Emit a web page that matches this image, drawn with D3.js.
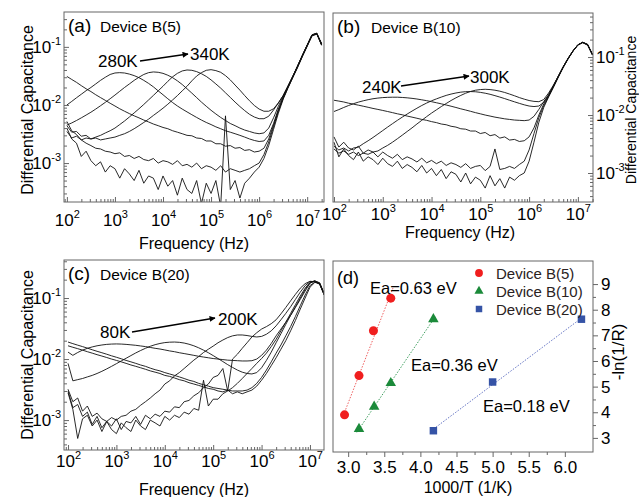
<!DOCTYPE html>
<html>
<head>
<meta charset="utf-8">
<script src="https://cdn.jsdelivr.net/npm/d3@7"></script>
<style>
  body { margin: 0; background: #fff; }
  svg { font-family: "Liberation Sans", Arial, sans-serif; }
</style>
</head>
<body>
<svg id="fig" width="639" height="497"></svg>
<script>
// ---- data -------------------------------------------------------------
// frequency grid, log10(f / Hz)
const freqExp = [2.0, 2.1, 2.2, 2.3, 2.4, 2.5, 2.6, 2.7, 2.8, 2.9,
  3.0, 3.1, 3.2, 3.3, 3.4, 3.5, 3.6, 3.7, 3.8, 3.9,
  4.0, 4.1, 4.2, 4.3, 4.4, 4.5, 4.6, 4.7, 4.8, 4.9,
  5.0, 5.1, 5.2, 5.3, 5.4, 5.5, 5.6, 5.7, 5.8, 5.9,
  6.0, 6.1, 6.2, 6.3, 6.4, 6.5, 6.6, 6.7, 6.8, 6.9,
  7.0, 7.1, 7.2, 7.3];

// differential capacitance, in units of 1e-3
const UNIT = 1e-3;

// (a) Device B(5)
const a340K = [4.4, 3.4, 3.5, 2.9, 3.0, 2.6, 2.7, 2.5, 2.6, 2.7,
  2.8, 3.0, 3.2, 3.5, 3.9, 4.4, 5.0, 5.7, 6.6, 7.6,
  8.8, 10.3, 12.2, 14.5, 17.5, 21, 26, 31.5, 36, 39.5,
  40.5, 39, 36.5, 32, 27, 22, 18, 14.5, 11.8, 9.8,
  8.5, 7.8, 7.8, 8.6, 10.8, 14.5, 21, 31, 46, 70,
  105, 155, 165, 112];
const a320K = [3.5, 2.7, 2.9, 2.5, 2.7, 2.6, 2.8, 3.0, 3.3, 3.6,
  4.0, 4.6, 5.3, 6.2, 7.3, 8.6, 10.2, 12.2, 14.6, 17.5,
  21, 25.5, 30.5, 35, 38.5, 40, 39.5, 37.5, 34.5, 31,
  27, 23, 19.5, 16.2, 13.5, 11.2, 9.4, 8.0, 6.9, 6.2,
  5.8, 5.8, 6.4, 8.2, 10.8, 14.5, 21, 31, 47, 71,
  107, 158, 168, 108];
const a300K = [4.5, 4.9, 5.4, 6.0, 6.7, 7.5, 8.5, 9.7, 11.1, 12.8,
  14.8, 17.2, 20, 23, 26.5, 30, 33.5, 36, 37, 36.5,
  35, 32.5, 29.5, 26, 22.5, 19, 16, 13.4, 11.2, 9.5,
  8.1, 7.0, 6.1, 5.4, 4.8, 4.4, 4.0, 3.7, 3.5, 3.3,
  3.2, 3.3, 4.0, 6.0, 9.5, 14, 21, 31, 47, 72,
  108, 162, 172, 108];
const a280K = [10, 11.5, 13.3, 15.3, 17.6, 20, 23, 26.5, 30, 33.5,
  35.5, 36, 35.5, 34, 32, 29.5, 26.5, 23.5, 20.5, 17.5,
  15, 12.8, 11, 9.6, 8.5, 7.6, 6.8, 6.1, 5.5, 5.0,
  4.6, 4.2, 3.9, 3.6, 3.4, 3.2, 3.0, 2.8, 2.6, 2.45,
  2.35, 2.4, 3.0, 4.8, 8.5, 13.5, 20.5, 30.5, 46, 71,
  106, 160, 170, 106];
const a260K = [31, 27.5, 24.5, 21.5, 19, 17, 15, 13.4, 12, 10.7,
  9.6, 8.6, 7.8, 7.1, 6.5, 6.0, 5.5, 5.1, 4.7, 4.4,
  4.1, 3.9, 3.6, 3.4, 3.2, 3.0, 2.95, 2.7, 2.65, 2.4,
  2.4, 2.15, 2.15, 1.95, 2.0, 1.8, 1.85, 1.65, 1.7, 1.55,
  1.6, 1.8, 2.6, 4.5, 8, 13, 20, 30, 46, 70,
  106, 160, 172, 110];
const a240K = [5.2, 3.6, 3.1, 2.5, 2.2, 2.0, 1.8, 1.75, 1.6, 1.55,
  1.45, 1.5, 1.3, 1.35, 1.2, 1.3, 1.15, 1.1, 1.2, 1.0,
  1.1, 1.05, 0.95, 1.1, 0.9, 0.95, 0.85, 1.0, 0.8, 0.9,
  0.85, 0.75, 0.9, 0.7, 0.8, 0.75, 0.7, 0.75, 0.8, 0.9,
  1.0, 1.4, 2.3, 4.2, 7.8, 13, 20, 30, 45, 69,
  104, 158, 170, 112];
const a220K = [4.0, 2.6, 2.2, 1.3, 1.6, 1.1, 0.9, 1.05, 0.7, 0.9,
  0.8, 0.55, 0.8, 0.65, 0.5, 0.75, 0.45, 0.6, 0.55, 0.35,
  0.6, 0.4, 0.5, 0.28, 0.55, 0.35, 0.3, 0.5, 0.2, 0.45,
  0.3, 0.5, 0.18, 6.5, 0.35, 0.5, 0.25, 0.45, 0.55, 0.7,
  0.85, 1.2, 2.0, 3.8, 7.2, 12.5, 19.5, 29.5, 44, 68,
  102, 155, 168, 115];

// (b) Device B(10)
const b300K = [2.6, 2.2, 2.4, 2.1, 2.3, 2.0, 2.2, 2.1, 2.3, 2.4,
  2.7, 3.0, 3.4, 3.9, 4.5, 5.2, 6.0, 7.0, 8.1, 9.4,
  10.8, 12.3, 14.0, 15.8, 17.8, 19.8, 21.8, 23.8, 25.5, 26.8,
  27.5, 27.8, 27.5, 26.8, 25.8, 24.5, 23.0, 21.5, 20.0, 18.8,
  17.8, 17.2, 17.0, 18.5, 24, 33, 47, 68, 95, 128,
  162, 178, 165, 112];
const b280K = [2.9, 2.5, 2.7, 2.4, 2.7, 2.8, 3.2, 3.6, 4.1, 4.7,
  5.4, 6.2, 7.1, 8.1, 9.2, 10.4, 11.7, 13.1, 14.6, 16.1,
  17.6, 19.0, 20.4, 21.8, 23.0, 24.0, 24.8, 25.3, 25.4, 25.2,
  24.6, 23.8, 22.8, 21.6, 20.4, 19.2, 18.0, 16.9, 15.9, 15.0,
  14.3, 14.0, 14.3, 16.5, 22, 32, 47, 68, 95, 128,
  163, 180, 166, 108];
const b260K = [11.5, 12.4, 13.5, 14.6, 15.7, 16.7, 17.6, 18.4, 19.1, 19.6,
  20.0, 20.2, 20.3, 20.3, 20.1, 19.8, 19.4, 18.9, 18.3, 17.7,
  17.0, 16.3, 15.6, 14.9, 14.2, 13.5, 12.8, 12.2, 11.6, 11.0,
  10.5, 10.0, 9.6, 9.2, 8.9, 8.6, 8.4, 8.2, 8.1, 8.0,
  8.2, 9.5, 12.5, 17, 22.5, 32, 47, 68, 95, 128,
  162, 179, 163, 110];
const b240K = [18.0, 17.4, 16.8, 16.0, 15.4, 14.8, 14.2, 13.6, 13.0, 12.5,
  12.0, 11.5, 11.0, 10.5, 10.1, 9.6, 9.2, 8.8, 8.4, 8.1,
  7.7, 7.4, 7.0, 6.8, 6.4, 6.2, 5.8, 5.7, 5.3, 5.3,
  4.8, 5.0, 4.4, 4.6, 4.0, 4.2, 3.7, 3.8, 3.5, 3.6,
  4.2, 6.0, 10, 15.5, 21.5, 31, 46, 67, 94, 127,
  161, 177, 160, 108];
const b220K = [4.2, 2.8, 3.4, 2.7, 2.5, 2.9, 2.2, 2.5, 2.3, 1.9,
  2.3, 2.0, 1.8, 2.1, 1.7, 1.9, 1.75, 1.55, 1.8, 1.5,
  1.65, 1.45, 1.6, 1.35, 1.5, 1.4, 1.25, 1.45, 1.2, 1.3,
  1.35, 1.1, 1.3, 2.6, 1.15, 1.2, 1.3, 1.2, 1.4, 1.6,
  2.5, 4.8, 9, 14.5, 21, 31, 46, 67, 94, 127,
  162, 179, 163, 110];
const b200K = [3.4, 1.9, 2.6, 2.0, 1.7, 2.3, 1.6, 1.9, 1.7, 1.4,
  1.8, 1.45, 1.3, 1.6, 1.2, 1.4, 1.25, 1.05, 1.35, 1.0,
  1.2, 0.9, 1.15, 0.8, 1.05, 0.95, 0.7, 1.0, 0.65, 0.85,
  0.75, 0.55, 0.9, 0.6, 0.8, 0.55, 0.85, 0.75, 0.9, 1.0,
  1.6, 3.4, 7.5, 13.5, 20.5, 30, 45, 66, 93, 126,
  162, 180, 163, 110];

// (c) Device B(20)
const c80K = [19.0, 17.9, 16.9, 16.0, 15.1, 14.2, 13.4, 12.7, 12.0, 11.3,
  10.7, 10.1, 9.5, 9.0, 8.5, 8.0, 7.6, 7.1, 6.7, 6.4,
  6.0, 5.7, 5.4, 5.1, 4.8, 4.5, 4.3, 4.0, 3.8, 3.6,
  3.4, 3.3, 3.2, 3.1, 3.0, 3.0, 3.0, 3.1, 3.4, 4.0,
  5.0, 6.6, 9, 12.5, 17, 24, 34, 50, 75, 112,
  160, 182, 172, 112];
const c100K = [16.5, 15.6, 14.8, 14.0, 13.2, 12.5, 11.8, 11.2, 10.6, 10.0,
  9.5, 9.0, 8.5, 8.0, 7.6, 7.2, 6.8, 6.4, 6.1, 5.8,
  5.4, 5.2, 4.9, 4.6, 4.4, 4.1, 3.9, 3.7, 3.5, 3.3,
  3.2, 3.0, 2.9, 3.1, 2.7, 2.9, 2.7, 2.9, 3.1, 3.6,
  4.5, 5.8, 7.8, 10.5, 14.5, 20, 29, 43, 66, 100,
  150, 180, 175, 115];
const c120K = [13.0, 11.5, 12.8, 14.0, 15.0, 15.8, 16.5, 17.0, 17.4, 17.6,
  17.7, 17.6, 17.4, 17.1, 16.8, 16.4, 16.0, 15.5, 15.0, 14.6,
  14.1, 13.6, 13.2, 12.7, 12.3, 11.9, 11.5, 11.1, 10.8, 10.5,
  10.2, 10.0, 9.8, 9.6, 9.5, 9.4, 9.3, 9.3, 9.4, 10.0,
  11.5, 14, 18, 24, 31, 40, 52, 70, 95, 130,
  175, 190, 178, 115];
const c140K = [8.5, 4.4, 4.6, 4.8, 5.1, 5.4, 5.8, 6.3, 6.9, 7.6,
  8.4, 9.3, 10.3, 11.4, 12.6, 13.8, 15.0, 16.2, 17.2, 18.0,
  18.6, 18.9, 19.0, 18.8, 18.3, 17.5, 16.5, 15.3, 14.0, 12.7,
  11.4, 10.2, 9.1, 8.1, 7.3, 6.6, 6.1, 5.8, 5.7, 6.0,
  7.2, 9.5, 13, 18.5, 26, 37, 52, 72, 100, 138,
  178, 188, 172, 112];
const c160K = [3.2, 2.0, 2.3, 1.4, 1.7, 1.15, 1.3, 1.05, 0.95, 1.1,
  1.0, 1.15, 1.2, 1.4, 1.5, 1.75, 2.0, 2.3, 2.7, 3.1,
  3.9, 4.4, 5.3, 6.0, 7.0, 8.2, 9.6, 11.0, 12.8, 14.5,
  16.3, 18.5, 20.5, 22.5, 24, 24.8, 24.8, 24.3, 23.5, 23,
  23.5, 25.5, 29, 35, 44, 56, 72, 95, 125, 160,
  185, 188, 170, 110];
const c180K = [3.0, 1.6, 1.8, 1.15, 1.35, 0.85, 1.15, 0.75, 0.95, 0.8,
  1.05, 0.7, 0.95, 0.9, 1.15, 0.85, 1.2, 1.05, 1.25, 1.15,
  1.4, 1.35, 1.65, 1.6, 2.0, 2.1, 2.5, 2.8, 3.4, 3.9,
  5.0, 5.4, 7.0, 3.0, 10, 12, 15, 18.5, 23, 27,
  31, 34, 38, 44, 55, 70, 90, 115, 145, 172,
  188, 185, 168, 110];
const c200K = [2.8, 1.5, 0.5, 1.05, 1.2, 0.8, 1.0, 0.65, 0.95, 0.7,
  0.6, 0.9, 0.75, 0.65, 1.0, 0.8, 0.7, 1.0, 0.9, 0.8,
  1.15, 1.0, 1.2, 1.1, 1.35, 1.25, 1.55, 1.45, 4.5, 1.7,
  2.2, 2.2, 2.7, 3.0, 3.4, 4.0, 4.8, 5.8, 7.0, 8.5,
  10.2, 12.5, 16, 21, 29, 40, 56, 78, 108, 145,
  180, 192, 175, 112];

// (d) Arrhenius data: 1000/T (1/K) and -ln(1/R)
const invT5 = [2.95, 3.15, 3.35, 3.59];
const lnR5 = [3.9, 5.43, 7.18, 8.45];
const invT10 = [3.15, 3.36, 3.59, 4.18];
const lnR10 = [3.35, 4.22, 5.14, 7.63];
const invT20 = [4.18, 5.0, 6.23];
const lnR20 = [3.28, 5.18, 7.63];

const dTicksX = [3.0, 3.5, 4.0, 4.5, 5.0, 5.5, 6.0];
const dTicksY = [3, 4, 5, 6, 7, 8, 9];

// ---- drawing ----------------------------------------------------------
const svg = d3.select("#fig");
const FRAME = "#666";

svg.append("defs").append("marker")
  .attr("id", "arrow")
  .attr("viewBox", "0 0 10 10")
  .attr("refX", 9).attr("refY", 5)
  .attr("markerWidth", 8).attr("markerHeight", 6)
  .attr("markerUnits", "userSpaceOnUse")
  .attr("orient", "auto")
  .append("path").attr("d", "M0,0L10,5L0,10z").attr("fill", "#000");

function isMajor(v) {
  const e = Math.log10(v);
  return Math.abs(e - Math.round(e)) < 1e-6;
}

function logTicks(lo, hi) {
  const out = [];
  for (let e = Math.floor(lo); e <= Math.ceil(hi); e++) {
    for (let m = 1; m < 10; m++) {
      const v = m * Math.pow(10, e);
      const le = Math.log10(v);
      if (le >= lo && le <= hi) out.push(v);
    }
  }
  return out;
}

function powerLabel(text, v) {
  const t = d3.select(text);
  t.text(null);
  t.append("tspan").text("10");
  t.append("tspan").attr("font-size", 11).attr("dy", "-0.75em")
    .text(Math.round(Math.log10(v)));
}

function styleAxis(g, inner) {
  g.attr("font-family", null).attr("font-size", 17);
  g.select(".domain").remove();
  g.selectAll(".tick line").attr("stroke", FRAME);
  g.selectAll(".tick").each(function (d) {
    const major = isMajor(d);
    const line = d3.select(this).select("line");
    inner(line, major ? 5 : 3);
    if (!major) d3.select(this).select("text").remove();
  });
  g.selectAll(".tick text").attr("fill", "#000").each(function (d) { powerLabel(this, d); });
}

function buildSpectrumPanel(p) {
  const x = d3.scaleLog()
    .domain([Math.pow(10, p.xExp[0]), Math.pow(10, p.xExp[1])])
    .range([p.left, p.right]);
  const y = d3.scaleLog()
    .domain([Math.pow(10, p.yExp[0]), Math.pow(10, p.yExp[1])])
    .range([p.bottom, p.top]);

  const g = svg.append("g");
  g.append("clipPath").attr("id", "clip-" + p.id)
    .append("rect")
    .attr("x", p.left).attr("y", p.top)
    .attr("width", p.right - p.left).attr("height", p.bottom - p.top);

  const line = d3.line()
    .x((d, i) => x(Math.pow(10, freqExp[i])))
    .y((d) => y(d * UNIT));

  g.append("g").attr("clip-path", `url(#clip-${p.id})`)
    .selectAll("path")
    .data(p.series)
    .join("path")
    .attr("fill", "none")
    .attr("stroke", "#111")
    .attr("stroke-width", 0.9)
    .attr("stroke-linejoin", "round")
    .attr("d", line);

  // x axis (ticks inside)
  const gx = g.append("g").attr("transform", `translate(0,${p.bottom})`)
    .call(d3.axisBottom(x).tickValues(logTicks(p.xExp[0], p.xExp[1]))
      .tickSizeOuter(0).tickSizeInner(-5).tickFormat(""));
  styleAxis(gx, (l, len) => l.attr("y2", -len));
  gx.selectAll(".tick text").attr("y", p.xLabelY - p.bottom).attr("dy", 0);

  // y axis (ticks inside)
  const yTicks = logTicks(p.yExp[0], p.yExp[1]);
  if (p.yRight) {
    const gy = g.append("g").attr("transform", `translate(${p.right},0)`)
      .call(d3.axisRight(y).tickValues(yTicks).tickSizeOuter(0)
        .tickSizeInner(-5).tickPadding(3).tickFormat(""));
    styleAxis(gy, (l, len) => l.attr("x2", -len));
  } else {
    const gy = g.append("g").attr("transform", `translate(${p.left},0)`)
      .call(d3.axisLeft(y).tickValues(yTicks).tickSizeOuter(0)
        .tickSizeInner(-5).tickPadding(3).tickFormat(""));
    styleAxis(gy, (l, len) => l.attr("x2", len));
  }

  // frame
  g.append("rect")
    .attr("x", p.left).attr("y", p.top)
    .attr("width", p.right - p.left).attr("height", p.bottom - p.top)
    .attr("fill", "none").attr("stroke", FRAME).attr("stroke-width", 1);

  // titles
  g.append("text")
    .attr("x", (p.left + p.right) / 2 + p.xTitleShift).attr("y", p.xTitleY)
    .attr("text-anchor", "middle").attr("font-size", 16)
    .text("Frequency (Hz)");
  g.append("text")
    .attr("transform", `translate(${p.yTitleX},${p.yTitleMid}) rotate(-90)`)
    .attr("text-anchor", "middle").attr("font-size", p.yTitleSize)
    .text("Differential Capacitance");

  // panel tag
  g.append("text").attr("x", p.left + 4).attr("y", p.top + 20)
    .attr("font-size", 19).text(p.tag);
  g.append("text").attr("x", p.tagTextX).attr("y", p.top + 20)
    .attr("font-size", 15.5).text(p.device);

  // temperature annotation
  const a = p.ann;
  g.append("text").attr("x", a.from[0]).attr("y", a.from[1])
    .attr("font-size", 17).text(a.fromText);
  g.append("text").attr("x", a.to[0]).attr("y", a.to[1])
    .attr("font-size", 17).text(a.toText);
  g.append("line")
    .attr("x1", a.arrow[0]).attr("y1", a.arrow[1])
    .attr("x2", a.arrow[2]).attr("y2", a.arrow[3])
    .attr("stroke", "#000").attr("stroke-width", 1.3)
    .attr("marker-end", "url(#arrow)");
}

buildSpectrumPanel({
  id: "a", left: 64, right: 324, top: 12, bottom: 202,
  xExp: [1.94, 7.35], yExp: [-3.67, -0.4],
  series: [a340K, a320K, a300K, a280K, a260K, a240K, a220K],
  xLabelY: 226, xTitleY: 249, xTitleShift: 0,
  yTitleX: 33, yTitleMid: 110, yTitleSize: 16,
  tag: "(a)", device: "Device B(5)", tagTextX: 100,
  ann: { from: [98, 67], fromText: "280K", to: [190, 60], toText: "340K",
    arrow: [140, 61, 188, 54] }
});

buildSpectrumPanel({
  id: "b", left: 333, right: 593, top: 13, bottom: 202, yRight: true,
  xExp: [1.98, 7.31], yExp: [-3.5, -0.24],
  series: [b300K, b280K, b260K, b240K, b220K, b200K],
  xLabelY: 220, xTitleY: 238, xTitleShift: -3,
  yTitleX: 636, yTitleMid: 110, yTitleSize: 14,
  tag: "(b)", device: "Device B(10)", tagTextX: 371,
  ann: { from: [362, 93], fromText: "240K", to: [470, 83], toText: "300K",
    arrow: [401, 86, 469, 76] }
});

buildSpectrumPanel({
  id: "c", left: 64, right: 324, top: 260, bottom: 450,
  xExp: [1.917, 7.29], yExp: [-3.49, -0.377],
  series: [c80K, c100K, c120K, c140K, c160K, c180K, c200K],
  xLabelY: 467, xTitleY: 495, xTitleShift: 0,
  yTitleX: 33, yTitleMid: 355, yTitleSize: 16,
  tag: "(c)", device: "Device B(20)", tagTextX: 100,
  ann: { from: [100, 338], fromText: "80K", to: [218, 325], toText: "200K",
    arrow: [132, 332, 215, 318] }
});

// ---- panel (d) ---------------------------------------------------------
const dBox = { left: 333, right: 593, top: 261, bottom: 452 };
const xd = d3.scaleLinear().domain([2.79, 6.39]).range([dBox.left, dBox.right]);
const yd = d3.scaleLinear().domain([2.45, 9.9]).range([dBox.bottom, dBox.top]);
const gd = svg.append("g");

const gdx = gd.append("g").attr("transform", `translate(0,${dBox.bottom})`)
  .call(d3.axisBottom(xd).tickValues(dTicksX).tickSizeOuter(0)
    .tickSize(5).tickPadding(4).tickFormat(d3.format(".1f")));
gdx.attr("font-family", null).attr("font-size", 17);
gdx.select(".domain").remove();
gdx.selectAll(".tick line").attr("stroke", FRAME);
gdx.selectAll(".tick text").attr("fill", "#000");
gd.append("g").attr("transform", `translate(0,${dBox.bottom})`)
  .call(d3.axisBottom(xd).tickValues(dTicksX.slice(0, -1).map((v) => v + 0.25))
    .tickSizeOuter(0).tickSize(3).tickFormat(""))
  .call((g) => g.select(".domain").remove())
  .selectAll(".tick line").attr("stroke", FRAME);

const gdy = gd.append("g").attr("transform", `translate(${dBox.right},0)`)
  .call(d3.axisRight(yd).tickValues(dTicksY).tickSizeOuter(0)
    .tickSize(5).tickPadding(3).tickFormat(d3.format("d")));
gdy.attr("font-family", null).attr("font-size", 17);
gdy.select(".domain").remove();
gdy.selectAll(".tick line").attr("stroke", FRAME);
gdy.selectAll(".tick text").attr("fill", "#000");
gd.append("g").attr("transform", `translate(${dBox.right},0)`)
  .call(d3.axisRight(yd).tickValues(dTicksY.slice(0, -1).map((v) => v + 0.5))
    .tickSizeOuter(0).tickSize(3).tickFormat(""))
  .call((g) => g.select(".domain").remove())
  .selectAll(".tick line").attr("stroke", FRAME);

gd.append("rect")
  .attr("x", dBox.left).attr("y", dBox.top)
  .attr("width", dBox.right - dBox.left).attr("height", dBox.bottom - dBox.top)
  .attr("fill", "none").attr("stroke", FRAME);

const arrSeries = [
  { xs: invT5, ys: lnR5, color: "#f01e1e", line: "#f06060", sym: d3.symbolCircle, size: 64, name: "Device B(5)" },
  { xs: invT10, ys: lnR10, color: "#1b8a3a", line: "#3f9f5f", sym: d3.symbolTriangle, size: 48, name: "Device B(10)" },
  { xs: invT20, ys: lnR20, color: "#3553a6", line: "#6474c4", sym: d3.symbolSquare, size: 56, name: "Device B(20)" }
];

function fit(xs, ys) {
  const mx = d3.mean(xs), my = d3.mean(ys);
  const k = d3.sum(xs, (v, i) => (v - mx) * (ys[i] - my)) / d3.sum(xs, (v) => (v - mx) * (v - mx));
  return (v) => my + k * (v - mx);
}

arrSeries.forEach((s) => {
  const f = fit(s.xs, s.ys);
  const x0 = d3.min(s.xs) - 0.03, x1 = d3.max(s.xs) + 0.03;
  gd.append("line")
    .attr("x1", xd(x0)).attr("y1", yd(f(x0)))
    .attr("x2", xd(x1)).attr("y2", yd(f(x1)))
    .attr("stroke", s.line).attr("stroke-width", 1)
    .attr("stroke-dasharray", "1.5,1.5");
  gd.selectAll(null).data(s.xs).join("path")
    .attr("transform", (d, i) => `translate(${xd(d)},${yd(s.ys[i])})`)
    .attr("d", d3.symbol(s.sym, s.size))
    .attr("fill", s.color);
});

// legend
arrSeries.forEach((s, i) => {
  const ly = 273 + i * 18;
  gd.append("path").attr("transform", `translate(479,${ly})`)
    .attr("d", d3.symbol(s.sym, s.size * 0.75)).attr("fill", s.color);
  gd.append("text").attr("x", 496).attr("y", ly + 5.5)
    .attr("font-size", 15).attr("fill", "#2a2222").text(s.name);
});

gd.append("text").attr("x", 337).attr("y", 284).attr("font-size", 18).text("(d)");
gd.append("text").attr("x", 370).attr("y", 294).attr("font-size", 16.5).text("Ea=0.63 eV");
gd.append("text").attr("x", 411).attr("y", 371).attr("font-size", 16.5).text("Ea=0.36 eV");
gd.append("text").attr("x", 483).attr("y", 412).attr("font-size", 16.5).text("Ea=0.18 eV");

gd.append("text").attr("x", 468).attr("y", 493)
  .attr("text-anchor", "middle").attr("font-size", 16).text("1000/T (1/K)");
gd.append("text")
  .attr("transform", "translate(624,352) rotate(-90)")
  .attr("text-anchor", "middle").attr("font-size", 17).text("-ln(1/R)");
</script>
</body>
</html>
